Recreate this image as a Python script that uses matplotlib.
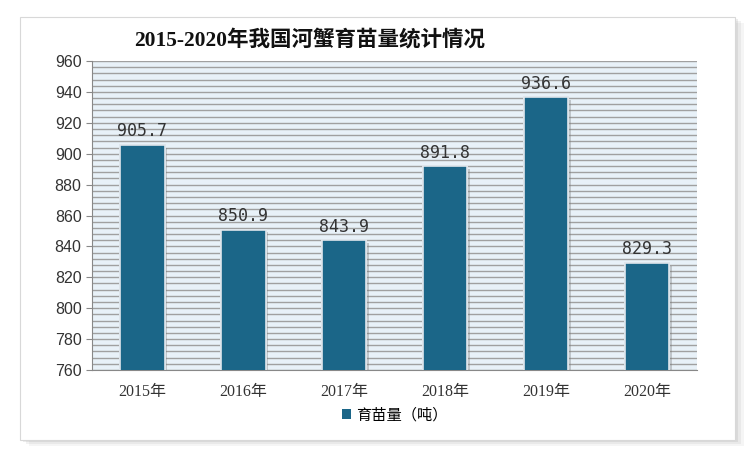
import matplotlib.pyplot as plt
import matplotlib.patheffects as pe
from matplotlib.patches import Rectangle, Patch

years = ['2015年', '2016年', '2017年', '2018年', '2019年', '2020年']
values = [905.7, 850.9, 843.9, 891.8, 936.6, 829.3]

plt.rcParams['font.family'] = ['Liberation Sans', 'Noto Sans CJK SC']

fig = plt.figure(figsize=(7.5, 4.57), dpi=100)

# white card with a soft shadow (behind the axes)
for off, a in [(0.012, 0.08), (0.008, 0.10), (0.004, 0.14)]:
    fig.patches.append(Rectangle((0.027 + off, 0.037 - off), 0.953, 0.925,
                                 transform=fig.transFigure, facecolor='gray',
                                 alpha=a, edgecolor='none', zorder=-3))
fig.patches.append(Rectangle((0.027, 0.037), 0.953, 0.925, transform=fig.transFigure,
                             facecolor='white', edgecolor='#d8d8d8', linewidth=0.8, zorder=-2))

ax = fig.add_axes([0.1227, 0.1904, 0.807, 0.676])
ax.set_facecolor('#e8f1f8')

x = range(len(years))
bars = ax.bar(x, values, width=0.44, color='#1b6688', edgecolor='#dfe6ec',
              linewidth=1.2, zorder=3)
for b in bars:
    b.set_path_effects([pe.withSimplePatchShadow(offset=(2, -2), shadow_rgbFace='#777777', alpha=0.35), pe.Normal()])

for i, v in enumerate(values):
    ax.text(i, v + 3, f'{v}', ha='center', va='bottom', fontsize=12,
            family=['DejaVu Sans Mono'], color='#333333', zorder=4)

ax.set_ylim(760, 960)
ax.set_xlim(-0.5, 5.5)
ax.set_yticks(range(760, 961, 20))
ax.set_yticks(range(760, 961, 4), minor=True)
ax.grid(axis='y', which='both', color='#a0a0a0', linewidth=1.0, zorder=1)
ax.set_axisbelow(True)
ax.tick_params(axis='y', which='minor', length=0)
ax.tick_params(axis='y', which='major', length=4, color='#888888', labelsize=11.5,
               labelcolor='#333333')
ax.set_xticks(list(x))
ax.set_xticklabels(years, family=['Liberation Serif', 'Noto Sans CJK SC'], fontsize=11.5,
                   color='#333333')
ax.tick_params(axis='x', length=0, pad=10)
for s in ['top', 'right']:
    ax.spines[s].set_visible(False)
ax.spines['left'].set_color('#888888')
ax.spines['bottom'].set_color('#888888')

fig.text(0.413, 0.912, '2015-2020年我国河蟹育苗量统计情况', ha='center', va='center',
         fontsize=15.5, fontweight='bold', family=['Liberation Serif', 'Noto Sans CJK SC'],
         color='#111111')

handle = Patch(facecolor='#1b6688', edgecolor='none')
leg = ax.legend([handle], ['育苗量（吨）'], loc='center', bbox_to_anchor=(0.5, -0.146),
                frameon=False, handlelength=0.6, handleheight=0.6,
                handletextpad=0.3, prop={'family': ['Noto Sans CJK SC'], 'size': 11})

fig.savefig('out.png', dpi=100)
